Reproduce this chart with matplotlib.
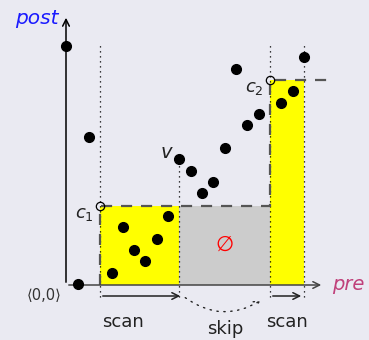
import matplotlib
matplotlib.use("Agg")
import matplotlib.pyplot as plt
from matplotlib.patches import Rectangle, FancyArrowPatch

# data points (pre, post)
pre_vals = [0, 23, 12, 113, 125, 147, 136, 159, 181, 193, 170, 215, 227, 238,
            102, 57, 91, 68, 79, 46]
post_vals = [239, 148, 1, 126, 114, 103, 92, 137, 160, 171, 216, 182, 194, 228,
             69, 58, 46, 35, 24, 12]

c1 = (34, 79)
c2 = (204, 205)
v_pre = 113
end_pre = 238
x_max = 258
y_max = 270

bg = '#eaeaf2'
fig = plt.figure(figsize=(3.69, 3.40), dpi=100, facecolor=bg)
ax = fig.add_axes([0, 0, 1, 1])
ax.set_facecolor(bg)
ax.set_xlim(-66, 303)
ax.set_ylim(-55, 285)
ax.axis('off')

# regions
ax.add_patch(Rectangle((c1[0], 0), v_pre - c1[0], c1[1], fc='yellow', ec='none', zorder=1))
ax.add_patch(Rectangle((v_pre, 0), c2[0] - v_pre, c1[1], fc='#cccccc', ec='none', zorder=1))
ax.add_patch(Rectangle((c2[0], 0), end_pre - c2[0], c2[1], fc='yellow', ec='none', zorder=1))

# dotted guides
for xv, top in [(c1[0], 240), (c2[0], 240), (end_pre, 240), (v_pre, post_vals[3])]:
    ax.plot([xv, xv], [-12, top], ls=(0, (1, 3)), color='black', lw=0.9, zorder=2)

# staircase border
ax.plot([c1[0], c1[0], c2[0], c2[0], 261], [0, c1[1], c1[1], c2[1], c2[1]],
        ls=(0, (5, 4)), color='#555555', lw=1.6, zorder=2)

# axes
ax.annotate('', xy=(x_max, 0), xytext=(0, 0),
            arrowprops=dict(arrowstyle='->', color='#444444', lw=1.1, mutation_scale=12), zorder=3)
ax.annotate('', xy=(0, y_max), xytext=(0, 0),
            arrowprops=dict(arrowstyle='->', color='black', lw=1.1, mutation_scale=12), zorder=3)

# points
ax.plot(pre_vals, post_vals, 'o', color='black', ms=7, zorder=4)
ax.plot([c1[0], c2[0]], [c1[1], c2[1]], 'o', mfc='none', mec='black', ms=6, mew=0.9, zorder=4)

# scan / skip arrows
ax.annotate('', xy=(117, -11), xytext=(c1[0], -11),
            arrowprops=dict(arrowstyle='->', color='#222222', lw=1.1, mutation_scale=12))
ax.annotate('', xy=(end_pre, -11), xytext=(c2[0], -11),
            arrowprops=dict(arrowstyle='->', color='#222222', lw=1.1, mutation_scale=12))
ax.add_patch(FancyArrowPatch((117, -11), (197, -14), connectionstyle='arc3,rad=0.35',
                             arrowstyle='->', ls=(0, (1, 4)), color='#222222', lw=1,
                             mutation_scale=10))

# labels
ax.text(-7, 267, 'post', color='#1a1aff', style='italic', fontsize=14.5, ha='right', va='center')
ax.text(266, 0, 'pre', color='#c0407a', style='italic', fontsize=14, ha='left', va='center')
ax.text(-22, -10, '⟨0,0⟩', fontsize=10.5, ha='center', va='center', color='#333333')
ax.text(c1[0] - 6, c1[1] - 8, '$c_1$', fontsize=13, ha='right', va='center', color='#222222')
ax.text(c2[0] - 6, c2[1] - 8, '$c_2$', fontsize=13, ha='right', va='center', color='#222222')
ax.text(v_pre - 5, 132, '$v$', fontsize=14, ha='right', va='center', color='#222222')
ax.text(158, 40, '∅', fontsize=15, ha='center', va='center', color='red')
ax.text(57, -37, 'scan', fontsize=13, ha='center', va='center', color='#222222')
ax.text(159, -44, 'skip', fontsize=13, ha='center', va='center', color='#222222')
ax.text(221, -37, 'scan', fontsize=13, ha='center', va='center', color='#222222')

fig.savefig('out.png', dpi=100, facecolor=bg)
